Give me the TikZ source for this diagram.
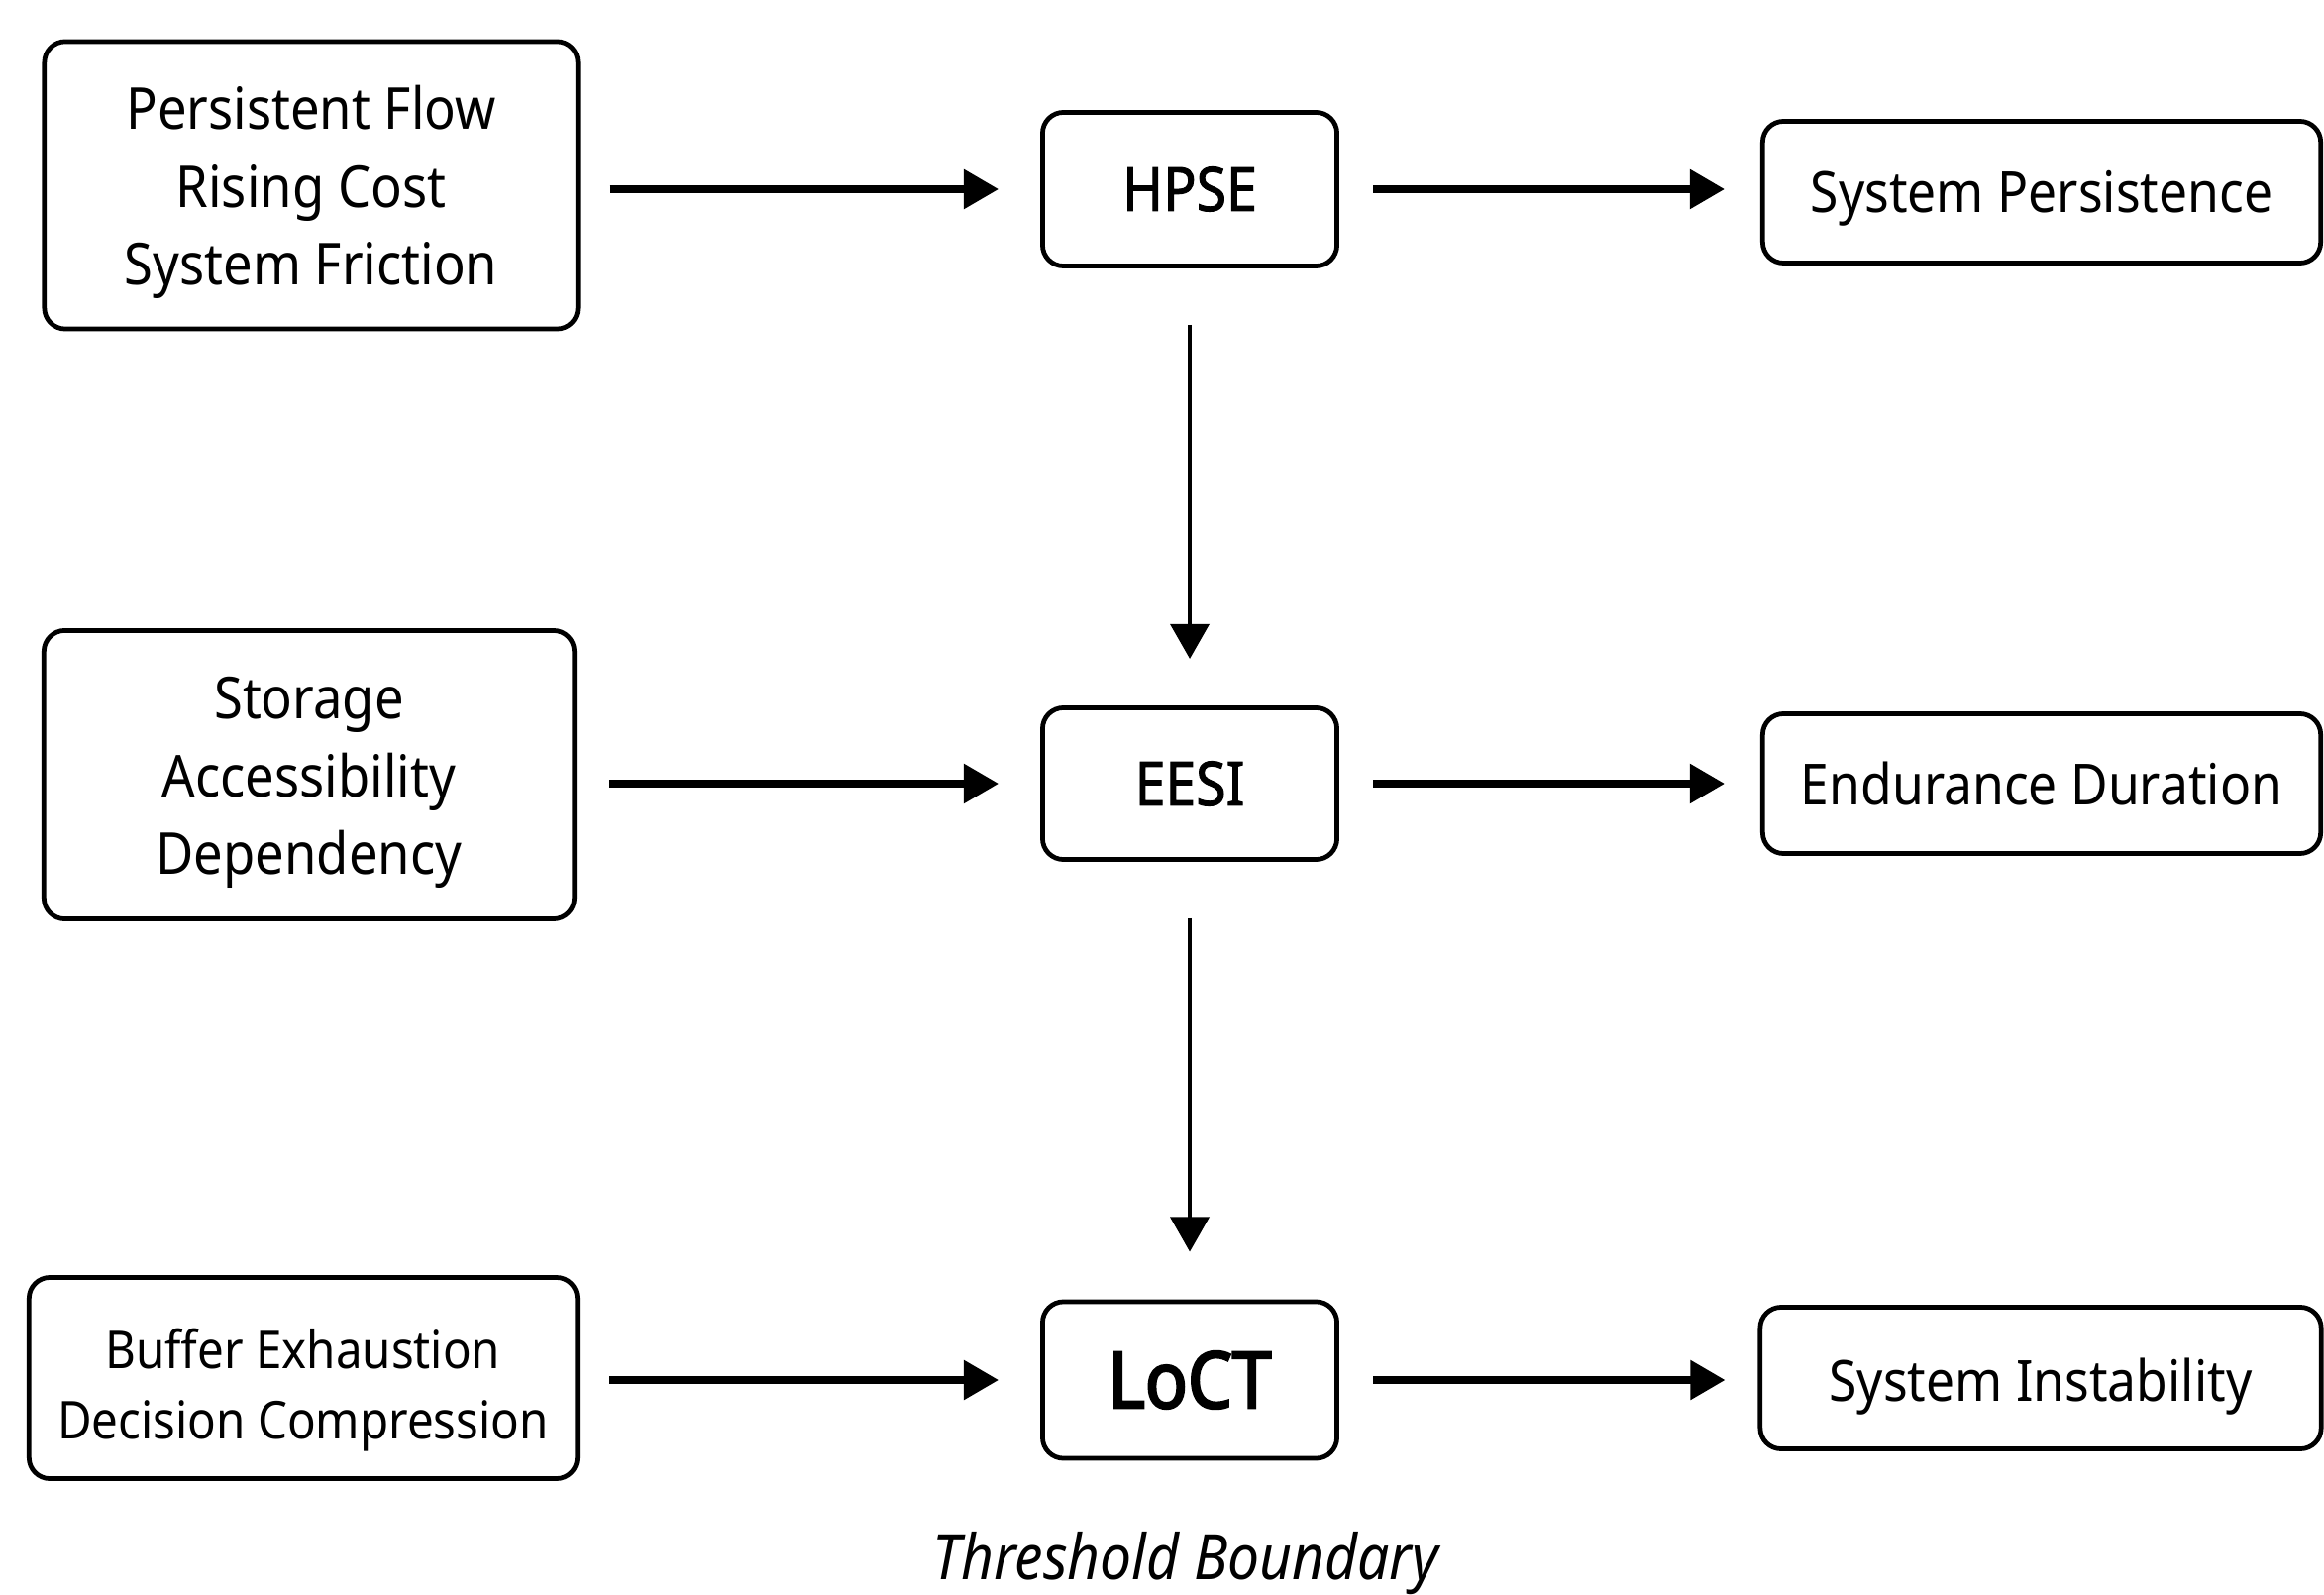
\documentclass[tikz,border=0pt]{standalone}
\usepackage{fontspec}
\setmainfont{Noto Sans}[FakeStretch=0.9]
\newfontfamily\semib{Noto Sans}[FakeStretch=0.9, FakeBold=1.6]
\newfontfamily\heavy{Noto Sans}[FakeStretch=0.9, FakeBold=3]
\usetikzlibrary{arrows.meta}
\tikzset{
  box/.style={draw=black, line width=1.35pt, rounded corners=6pt, fill=white, align=center, inner sep=0pt},
  lbl/.style={align=center, inner sep=0pt},
  harrow/.style={line width=2pt, -{Triangle[length=10pt,width=11pt]}},
  varrow/.style={line width=1.4pt, -{Triangle[length=10pt,width=11pt]}},
  txt/.style={font=\fontsize{16.6}{22.3}\selectfont},
  midtxt/.style={font=\fontsize{17.5}{20}\selectfont\semib},
  outtxt/.style={font=\fontsize{16.3}{20}\selectfont},
}
\begin{document}
\begin{tikzpicture}[x=0.01cm, y=-0.01cm]
\useasboundingbox (0,0) rectangle (2346,1610);
\fill[white] (0,0) rectangle (2346,1610);
% left boxes
\node[box, minimum width=5.38cm, minimum height=2.90cm] (b1) at (314,187) {};
\node[lbl, txt] (b1t) at ([yshift=-0.07cm]b1.center) {Persistent Flow\\Rising Cost\\System Friction};
\node[box, minimum width=5.35cm, minimum height=2.91cm] (b2) at (312,782) {};
\node[lbl, txt] (b2t) at ([yshift=-0.08cm]b2.center) {Storage\\Accessibility\\Dependency};
\node[box, minimum width=5.53cm, minimum height=2.03cm] (b3) at (306,1391) {};
\node[lbl, font=\fontsize{15}{20}\selectfont] (b3t) at ([yshift=-0.12cm]b3.center) {Buffer Exhaustion\\Decision Compression};
% middle boxes
\node[box, midtxt, minimum width=2.97cm, minimum height=1.55cm] (hpse) at (1201,191) {HPSE};
\node[box, midtxt, minimum width=2.97cm, minimum height=1.53cm] (eesi) at (1201,791) {EESI};
\node[box, minimum width=2.97cm, minimum height=1.58cm, font=\fontsize{22.5}{26}\selectfont\heavy] (loct) at (1201,1393) {LoCT};
% right boxes
\node[box, minimum width=5.63cm, minimum height=1.43cm] (sp) at (2061,194) {};
\node[lbl, outtxt] (spt) at ([yshift=-0.06cm]sp.center) {System Persistence};
\node[box, outtxt, minimum width=5.63cm, minimum height=1.41cm] (ed) at (2061,791) {Endurance Duration};
\node[box, minimum width=5.66cm, minimum height=1.43cm] (si) at (2060,1391) {};
\node[lbl, outtxt] (sit) at ([yshift=-0.09cm]si.center) {System Instability};
% caption
\node[font=\fontsize{18}{20}\selectfont\itshape] (cap) at (1197,1578) {Threshold Boundary};
% arrows
\draw[harrow] ([xshift=0.30cm]b1.east |- hpse.west) -- ([xshift=-0.42cm]hpse.west);
\draw[harrow] ([xshift=0.34cm]hpse.east) -- ([xshift=-0.36cm]sp.west |- hpse.east);
\draw[harrow] ([xshift=0.33cm]b2.east |- eesi.west) -- ([xshift=-0.42cm]eesi.west);
\draw[harrow] ([xshift=0.34cm]eesi.east) -- ([xshift=-0.36cm]ed.west |- eesi.east);
\draw[harrow] ([xshift=0.30cm]b3.east |- loct.west) -- ([xshift=-0.42cm]loct.west);
\draw[harrow] ([xshift=0.34cm]loct.east) -- ([xshift=-0.33cm]si.west |- loct.east);
\draw[varrow] ([yshift=-0.57cm]hpse.south) -- ([yshift=0.47cm]eesi.north);
\draw[varrow] ([yshift=-0.57cm]eesi.south) -- ([yshift=0.48cm]loct.north);
\end{tikzpicture}
\end{document}
